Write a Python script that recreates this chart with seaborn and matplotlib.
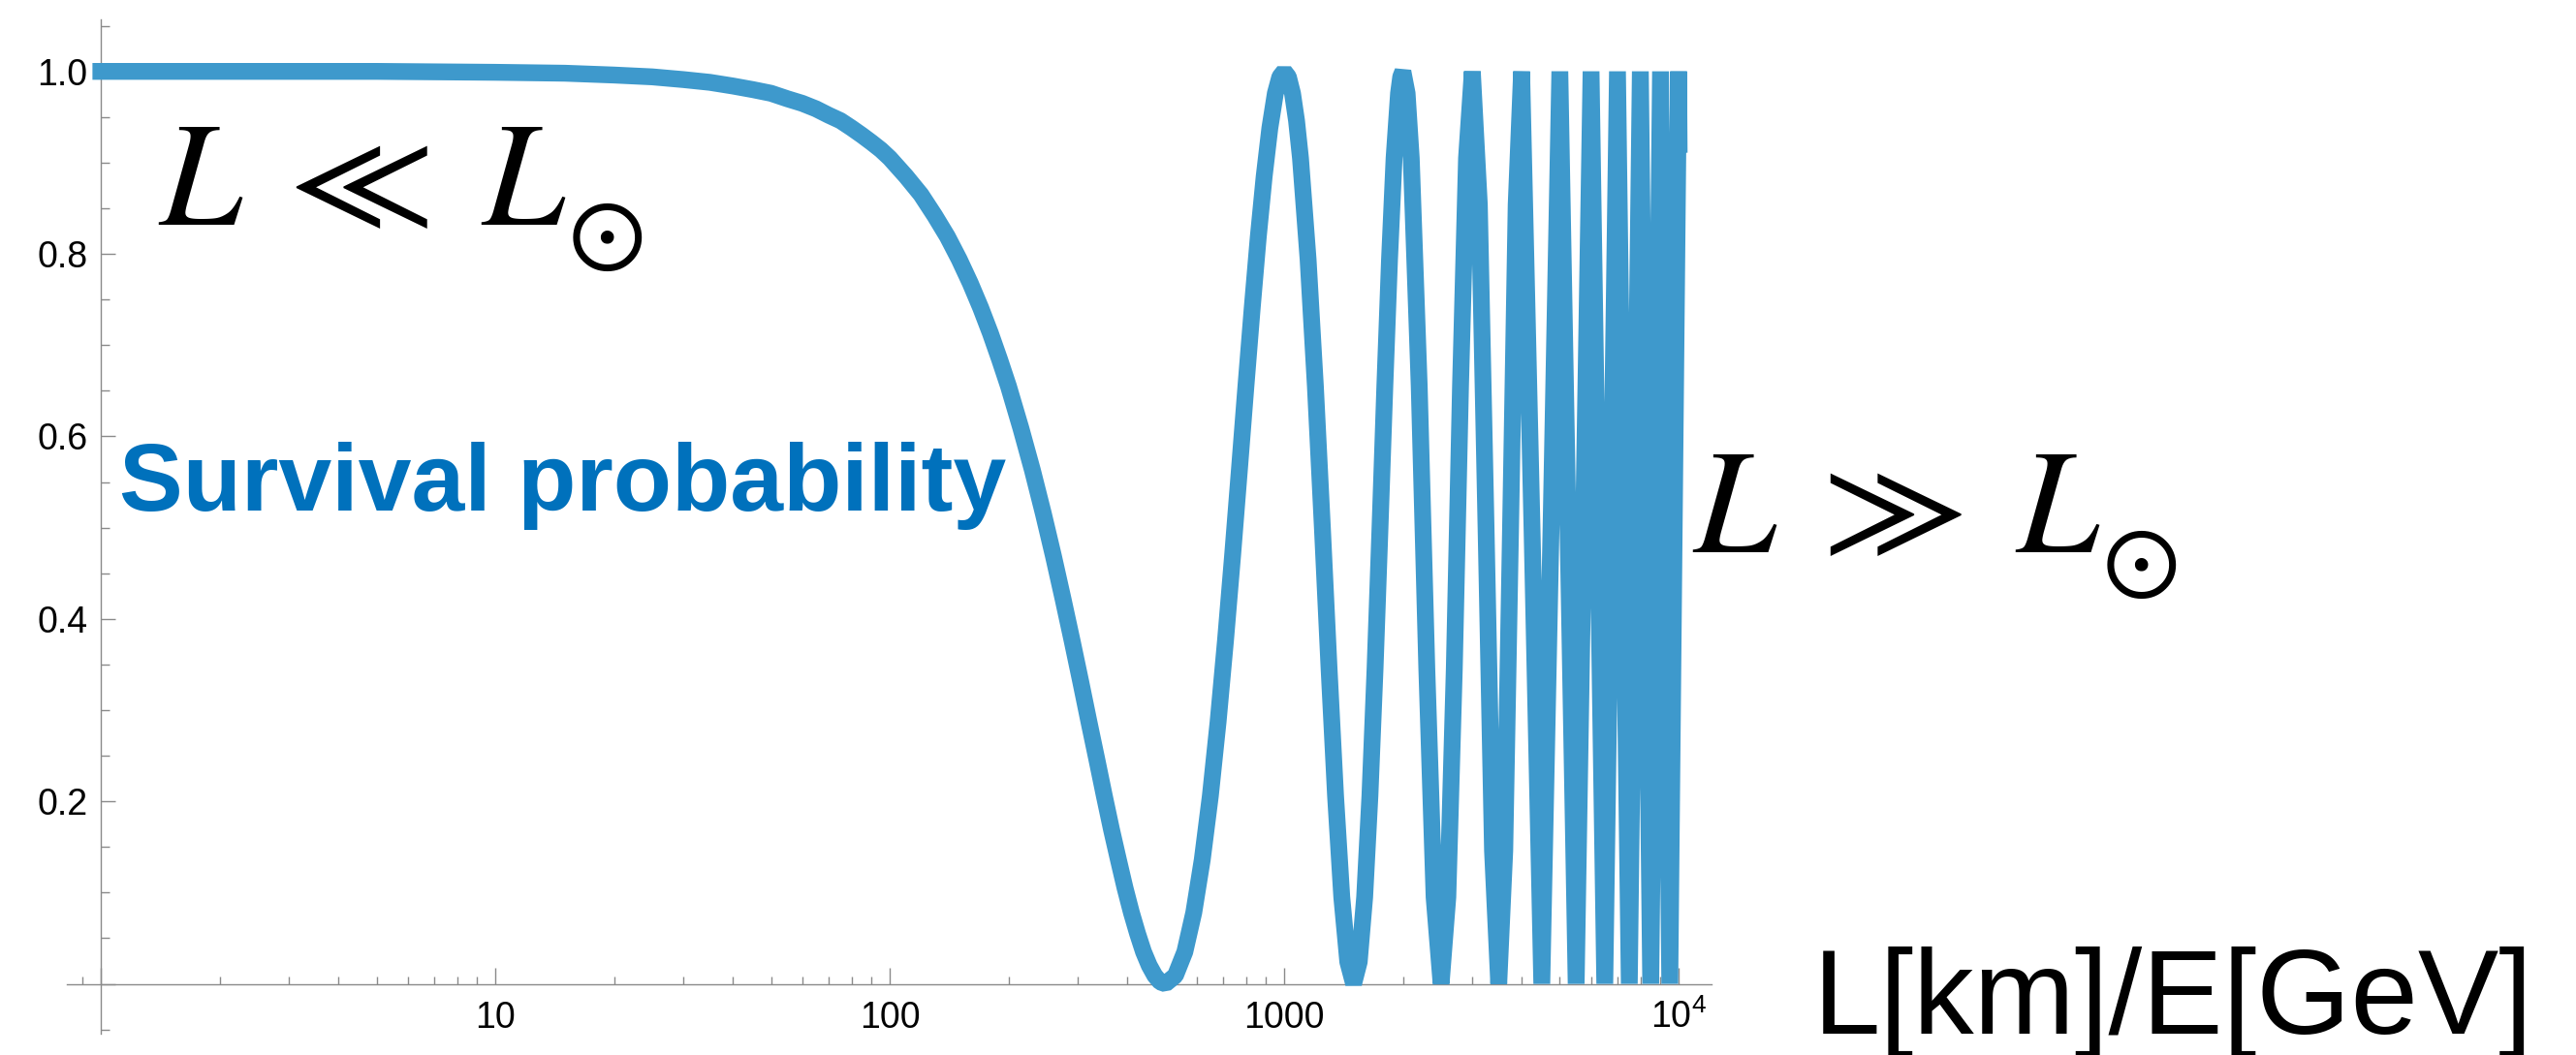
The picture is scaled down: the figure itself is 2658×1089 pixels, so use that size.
import matplotlib
matplotlib.use('Agg')
import matplotlib.pyplot as plt
import seaborn as sns
import pandas as pd
from matplotlib.ticker import FixedLocator, FixedFormatter, NullFormatter

# ---- data (L/E in km/GeV, survival probability) ----
L_over_E = [1, 2, 5, 10, 15, 20, 25, 30, 35, 40, 45, 50, 55, 60, 65, 70, 75, 80, 85, 90, 95,
            100, 110, 120, 130, 140, 150, 160, 170, 180, 190, 200, 215, 230, 245, 260, 275,
            290, 305, 320, 335, 350, 365, 380, 395, 410, 425, 440, 455, 470, 485, 500,
            530, 560, 590, 620, 650, 680, 710, 740, 770, 800, 830, 860, 890, 920, 950, 975,
            1000, 1025, 1050, 1075, 1100, 1150, 1200, 1250, 1300, 1350, 1400, 1450, 1500,
            1550, 1600, 1650, 1700, 1750, 1800, 1850, 1900, 1950, 1975, 2000, 2050,
            2100, 2200, 2300, 2400, 2500, 2600, 2700, 2800, 2900, 3000,
            3125, 3250, 3375, 3500, 3625, 3750, 3875, 4000,
            4250, 4500, 4750, 5000,
            5500, 6000, 6500, 7000, 7500, 8000, 8500, 9000, 9500, 10000, 10030]
survival = [1.0, 1.0, 1.0, 0.999, 0.998, 0.996, 0.994, 0.991, 0.988, 0.984, 0.980, 0.976,
            0.970, 0.965, 0.959, 0.952, 0.946, 0.938, 0.930, 0.922, 0.914,
            0.905, 0.885, 0.865, 0.842, 0.819, 0.794, 0.768, 0.741, 0.713, 0.684, 0.655,
            0.609, 0.563, 0.516, 0.469, 0.422,
            0.376, 0.331, 0.287, 0.246, 0.206, 0.169, 0.136, 0.105, 0.078, 0.055, 0.035,
            0.020, 0.009, 0.002, 0.0,
            0.009, 0.035, 0.078, 0.136, 0.206, 0.287, 0.376, 0.469, 0.563, 0.655, 0.741,
            0.819, 0.885, 0.938, 0.976, 0.994,
            1.0, 0.994, 0.976, 0.946, 0.905, 0.794, 0.655, 0.5, 0.345, 0.206, 0.095, 0.024,
            0.0, 0.024, 0.095, 0.206, 0.345, 0.5, 0.655, 0.794, 0.905, 0.976, 0.994, 1.0,
            0.976,
            0.905, 0.655, 0.345, 0.095, 0.0, 0.095, 0.345, 0.655, 0.905, 1.0,
            0.854, 0.5, 0.146, 0.0, 0.146, 0.5, 0.854, 1.0,
            0.5, 0.0, 0.5, 1.0,
            0.0, 1.0, 0.0, 1.0, 0.0, 1.0, 0.0, 1.0, 0.0, 1.0, 0.92]

x_major_ticks = [1, 10, 100, 1000, 10000]
x_major_labels = ['', '10', '100', '1000', r'$10^4$']
x_minor_ticks = [0.9, 2, 3, 4, 5, 6, 7, 8, 9, 20, 30, 40, 50, 60, 70, 80, 90,
                 200, 300, 400, 500, 600, 700, 800, 900,
                 2000, 3000, 4000, 5000, 6000, 7000, 8000, 9000]
y_major_ticks = [0.0, 0.2, 0.4, 0.6, 0.8, 1.0]
y_major_labels = ['', '0.2', '0.4', '0.6', '0.8', '1.0']
y_minor_ticks = [-0.05, 0.05, 0.1, 0.15, 0.25, 0.3, 0.35, 0.45, 0.5, 0.55,
                 0.65, 0.7, 0.75, 0.85, 0.9, 0.95, 1.05]

LINE_COLOR = '#3e99cc'
TEXT_BLUE = '#0071bc'
AXIS_GRAY = '#8a8a8a'

sns.set_theme(style='white')
plt.rcParams['font.family'] = ['Liberation Sans', 'DejaVu Sans']
plt.rcParams['mathtext.fontset'] = 'custom'
plt.rcParams['mathtext.rm'] = 'Liberation Sans'
plt.rcParams['mathtext.it'] = 'Liberation Sans:italic'
plt.rcParams['mathtext.bf'] = 'Liberation Sans:bold'

W, H = 2658, 1089
fig = plt.figure(figsize=(W / 100, H / 100), dpi=100)
ax = fig.add_axes([69 / W, 1 - 1067.3 / H, (1765.7 - 69) / W, (1067.3 - 20) / H])
ax.set_facecolor('white')
ax.set_xscale('log')

df = pd.DataFrame({'LE': L_over_E, 'P': survival})
sns.lineplot(data=df, x='LE', y='P', ax=ax, estimator=None, sort=False,
             color=LINE_COLOR, linewidth=12.5, zorder=5)
line = ax.lines[0]
line.set_solid_joinstyle('bevel')
line.set_solid_capstyle('projecting')

ax.set_xlim(0.82, 12100)
ax.set_ylim(-0.055, 1.057)
ax.set_xlabel('')
ax.set_ylabel('')

for s in ['top', 'right']:
    ax.spines[s].set_visible(False)
ax.spines['left'].set_position(('data', 1))
ax.spines['bottom'].set_position(('data', 0))
for s in ['left', 'bottom']:
    ax.spines[s].set_color(AXIS_GRAY)
    ax.spines[s].set_linewidth(1.0)
    ax.spines[s].set_zorder(2)

ax.xaxis.set_major_locator(FixedLocator(x_major_ticks))
ax.xaxis.set_major_formatter(FixedFormatter(x_major_labels))
ax.xaxis.set_minor_locator(FixedLocator(x_minor_ticks))
ax.xaxis.set_minor_formatter(NullFormatter())
ax.yaxis.set_major_locator(FixedLocator(y_major_ticks))
ax.yaxis.set_major_formatter(FixedFormatter(y_major_labels))
ax.yaxis.set_minor_locator(FixedLocator(y_minor_ticks))
ax.yaxis.set_minor_formatter(NullFormatter())

ax.tick_params(axis='x', which='major', bottom=True, direction='in', length=12.2,
               width=1.0, color=AXIS_GRAY, pad=33, labelsize=27, labelcolor='black')
ax.tick_params(axis='x', which='minor', bottom=True, direction='in', length=6.1,
               width=1.0, color=AXIS_GRAY)
ax.tick_params(axis='y', which='major', left=True, direction='in', length=10.8,
               width=1.0, color=AXIS_GRAY, pad=10, labelsize=27, labelcolor='black')
ax.tick_params(axis='y', which='minor', left=True, direction='in', length=6.5,
               width=1.0, color=AXIS_GRAY)
for t in ax.xaxis.get_major_ticks():
    t.label1.set_verticalalignment('baseline')
ax.grid(False)

# annotations: "L << L_sun" and "L >> L_sun" (sun symbol as a lowered subscript)
renderer = fig.canvas.get_renderer()


def regime_label(x_px, base_px, body):
    t = fig.text(x_px / W, 1 - base_px / H, body, math_fontfamily='stix',
                 fontsize=110, va='baseline', ha='left', color='black')
    bb = t.get_window_extent(renderer)
    fig.text((bb.x1 + 1) / W, 1 - (base_px + 12) / H, r'$\odot$', math_fontfamily='stix',
             fontsize=77, va='center', ha='left', color='black')


regime_label(163, 232, r'$L\;\ll\;L$')
regime_label(1746, 570, r'$L\;\gg\;L$')

fig.text(123 / W, 1 - 527 / H, 'Survival probability', fontsize=71, fontweight='bold',
         color=TEXT_BLUE, va='baseline', ha='left')
fig.text(1871 / W, 1 - 1067 / H, 'L[km]/E[GeV]', fontsize=90, va='baseline',
         ha='left', color='black')

fig.savefig('out.png', dpi=100, facecolor='white')
